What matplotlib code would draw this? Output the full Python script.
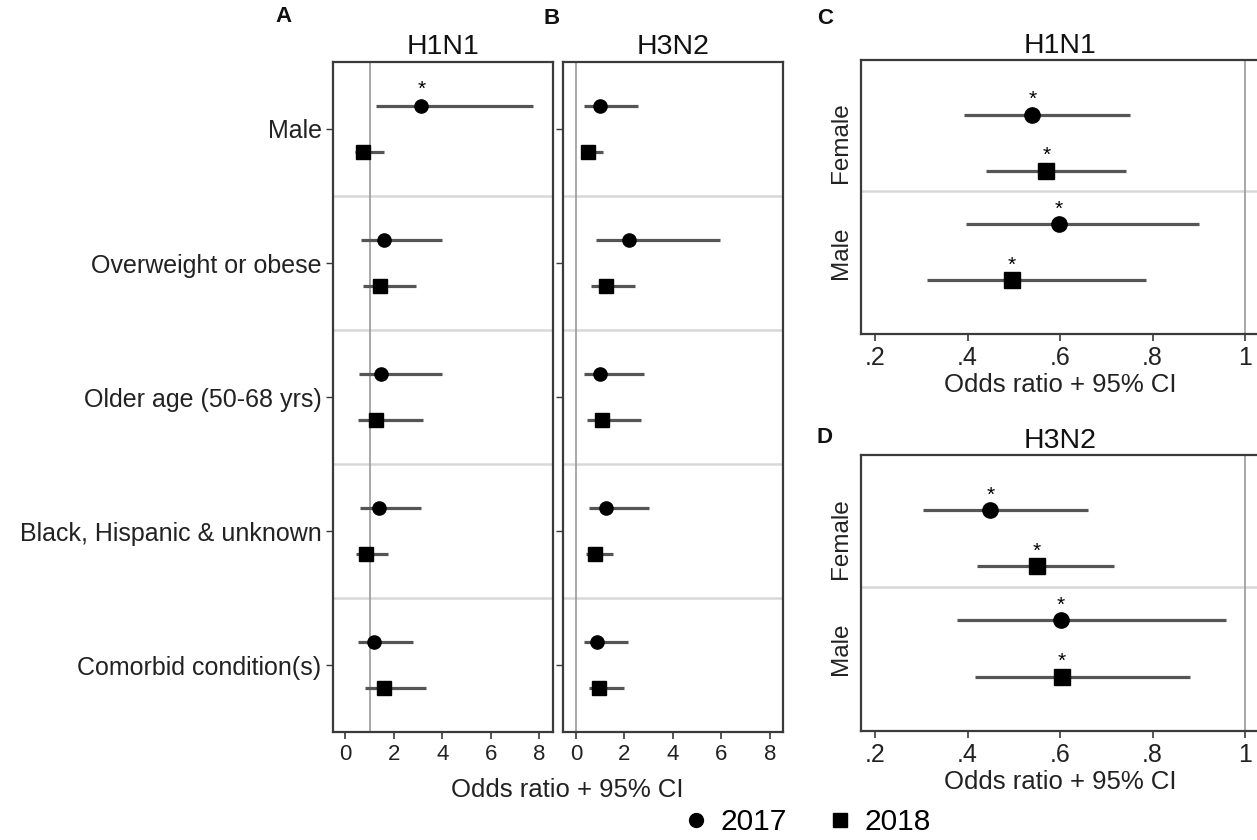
import matplotlib
matplotlib.use("Agg")
import matplotlib.pyplot as plt
from matplotlib.lines import Line2D
import numpy as np

plt.rcParams['font.family'] = ['Liberation Sans', 'DejaVu Sans']

# ---------------- data ----------------
categories = ["Male", "Overweight or obese", "Older age (50-68 yrs)",
              "Black, Hispanic & unknown", "Comorbid condition(s)"]

h1n1_2017_or = [3.13, 1.61, 1.47, 1.38, 1.17]
h1n1_2017_lo = [1.28, 0.65, 0.55, 0.62, 0.51]
h1n1_2017_hi = [7.74, 4.00, 4.00, 3.13, 2.80]
h1n1_2017_sig = [True, False, False, False, False]
h1n1_2018_or = [0.73, 1.42, 1.28, 0.85, 1.61]
h1n1_2018_lo = [0.41, 0.72, 0.52, 0.45, 0.80]
h1n1_2018_hi = [1.58, 2.92, 3.20, 1.75, 3.33]
h1n1_2018_sig = [False, False, False, False, False]

h3n2_2017_or = [0.99, 2.20, 1.00, 1.24, 0.85]
h3n2_2017_lo = [0.34, 0.82, 0.34, 0.52, 0.34]
h3n2_2017_hi = [2.54, 5.95, 2.82, 3.00, 2.16]
h3n2_2017_sig = [False, False, False, False, False]
h3n2_2018_or = [0.51, 1.24, 1.07, 0.80, 0.96]
h3n2_2018_lo = [0.27, 0.62, 0.44, 0.41, 0.52]
h3n2_2018_hi = [1.10, 2.45, 2.68, 1.51, 1.99]
h3n2_2018_sig = [False, False, False, False, False]

sexes = ["Female", "Male"]
c_2017_or = [0.540, 0.598]
c_2017_lo = [0.392, 0.397]
c_2017_hi = [0.751, 0.901]
c_2018_or = [0.570, 0.496]
c_2018_lo = [0.439, 0.313]
c_2018_hi = [0.742, 0.786]
d_2017_or = [0.449, 0.601]
d_2017_lo = [0.304, 0.378]
d_2017_hi = [0.661, 0.959]
d_2018_or = [0.550, 0.604]
d_2018_lo = [0.421, 0.416]
d_2018_hi = [0.717, 0.881]
cd_sig = [True, True]

ab_ticks = [0, 2, 4, 6, 8]
cd_ticks = [0.2, 0.4, 0.6, 0.8, 1.0]
cd_ticklabels = [".2", ".4", ".6", ".8", "1"]
years = ["2017", "2018"]

# ---------------- style ----------------
W, H = 1257, 840
fig = plt.figure(figsize=(W / 100, H / 100), dpi=100)

def ax_at(l, t, r, b):
    return fig.add_axes([l / W, 1 - b / H, (r - l) / W, (b - t) / H])

SPINE = '#3a3a3a'
LINE = '#555555'
SEP = '#d8d8d8'
REF = '#9a9a9a'

def style(ax):
    for s in ax.spines.values():
        s.set_color(SPINE)
        s.set_linewidth(1.6)

def draw_series(ax, ypos, orv, lo, hi, sig, marker, ms, star_off):
    for y, o, l, h, s in zip(ypos, orv, lo, hi, sig):
        ax.plot([l, h], [y, y], color=LINE, lw=2.3, solid_capstyle='butt', zorder=3)
        ax.plot([o], [y], marker=marker, color='black', ms=ms, zorder=4, ls='none')
        if s:
            ax.annotate("*", xy=(o, y), xytext=(0, star_off), textcoords='offset points',
                        ha='center', va='center', fontsize=15, color='black')

# ---- panels A, B ----
idx = np.arange(len(categories))
d = 0.168
axA = ax_at(332.7, 62, 552.7, 732)
axB = ax_at(563.3, 62, 783.3, 732)
for ax, title, s17, s18, ref in [
        (axA, "H1N1", (h1n1_2017_or, h1n1_2017_lo, h1n1_2017_hi, h1n1_2017_sig),
         (h1n1_2018_or, h1n1_2018_lo, h1n1_2018_hi, h1n1_2018_sig), 1.0),
        (axB, "H3N2", (h3n2_2017_or, h3n2_2017_lo, h3n2_2017_hi, h3n2_2017_sig),
         (h3n2_2018_or, h3n2_2018_lo, h3n2_2018_hi, h3n2_2018_sig), 0.0)]:
    style(ax)
    ax.set_xlim(-0.52, 8.55)
    ax.set_ylim(4.5, -0.5)
    for k in range(len(categories) - 1):
        ax.axhline(k + 0.5, color=SEP, lw=1.8, zorder=1)
    ax.axvline(ref, color=REF, lw=1.2, zorder=2)
    draw_series(ax, idx - d, *s17, 'o', 9.5, 12)
    draw_series(ax, idx + d, *s18, 's', 10, 12)
    ax.set_xticks(ab_ticks)
    ax.set_xticklabels([str(t) for t in ab_ticks])
    ax.set_yticks(idx)
    ax.tick_params(axis='x', length=5, width=1.2, color=SPINE, labelsize=16, pad=4, labelcolor='#222')
    ax.tick_params(axis='y', length=5, width=1.0, color=SPINE, labelsize=18, pad=3, labelcolor='#222')
    ax.set_title(title, fontsize=20.5, pad=6, color='#111')
axA.set_yticklabels(categories)
axB.set_yticklabels([])
fig.text(567.5 / W, 1 - 790 / H, "Odds ratio + 95% CI", ha='center', va='center',
         fontsize=18.5, color='#222')

# ---- panels C, D ----
sidx = np.arange(len(sexes))
dd = 0.255
axC = ax_at(860.7, 60, 1259, 334)
axD = ax_at(860.7, 455, 1259, 730.7)
for ax, title, s17, s18 in [
        (axC, "H1N1", (c_2017_or, c_2017_lo, c_2017_hi, cd_sig), (c_2018_or, c_2018_lo, c_2018_hi, cd_sig)),
        (axD, "H3N2", (d_2017_or, d_2017_lo, d_2017_hi, cd_sig), (d_2018_or, d_2018_lo, d_2018_hi, cd_sig))]:
    style(ax)
    ax.set_xlim(0.169, 1.03)
    ax.set_ylim(1.745, -0.755)
    ax.axhline(0.44, color=SEP, lw=1.8, zorder=1)
    ax.axvline(1.0, color=REF, lw=1.2, zorder=2)
    draw_series(ax, sidx - dd, *s17, 'o', 11, 11)
    draw_series(ax, sidx + dd, *s18, 's', 12, 11)
    ax.set_xticks(cd_ticks)
    ax.set_xticklabels(cd_ticklabels)
    ax.set_yticks(sidx)
    ax.set_yticklabels(sexes, rotation=90, va='center')
    ax.tick_params(axis='x', length=5, width=1.2, color=SPINE, labelsize=18, pad=4, labelcolor='#222')
    ax.tick_params(axis='y', length=0, labelsize=17.5, pad=6, labelcolor='#222')
    ax.set_xlabel("Odds ratio + 95% CI", fontsize=18.5, color='#222', labelpad=2)
    ax.set_title(title, fontsize=20.5, pad=5, color='#111')

# ---- panel letters ----
for lab, x, y in [("A", 283, 16), ("B", 552, 19), ("C", 825, 18), ("D", 825, 437)]:
    fig.text(x / W, 1 - y / H, lab, ha='center', va='center', fontsize=16,
             fontweight='bold', color='#111')

# ---- legend ----
handles = [Line2D([], [], marker='o', color='black', ls='none', ms=10),
           Line2D([], [], marker='s', color='black', ls='none', ms=10)]
fig.legend(handles, years, loc='center', bbox_to_anchor=(806 / W, 1 - 822 / H),
           ncol=2, frameon=False, fontsize=21.5, handletextpad=0.3, columnspacing=1.3,
           handlelength=1.0, borderpad=0)

fig.savefig("out.png", dpi=100)
